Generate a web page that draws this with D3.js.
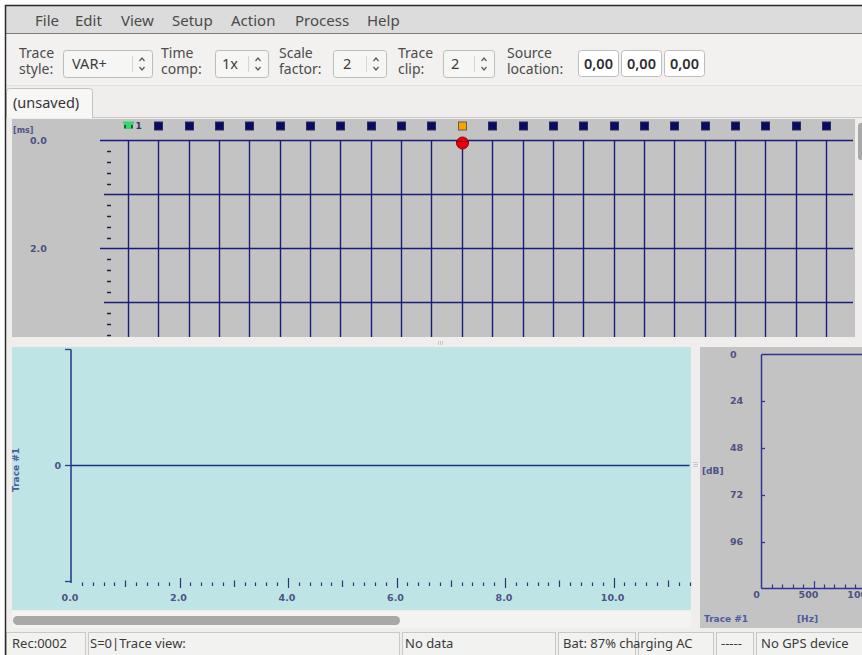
<!DOCTYPE html>
<html>
<head>
<meta charset="utf-8">
<script src="https://cdn.jsdelivr.net/npm/d3@7"></script>
<style>
  html, body { margin: 0; padding: 0; background: #ffffff; }
  svg { display: block; }
  .ui { font-family: "Noto Sans", "Open Sans", sans-serif; }
  .plot { font-family: "DejaVu Sans", sans-serif; font-weight: bold; }
</style>
</head>
<body>
<svg id="app" width="862" height="655"></svg>
<script>
// ---- application content ----
const menuItems = ["File", "Edit", "View", "Setup", "Action", "Process", "Help"];
const menuX = [35, 75, 121, 172, 231, 295, 367];

const spinControls = [
  { label: ["Trace", "style:"], value: "VAR+" },
  { label: ["Time", "comp:"], value: "1x" },
  { label: ["Scale", "factor:"], value: "2" },
  { label: ["Trace", "clip:"], value: "2" }
];
const sourceLabel = ["Source", "location:"];
const sourceLocation = ["0,00", "0,00", "0,00"];
const tabTitle = "(unsaved)";

// Trace gather (top panel)
const traceIds = [1, 2, 3, 4, 5, 6, 7, 8, 9, 10, 11, 12, 13, 14, 15, 16, 17, 18, 19, 20, 21, 22, 23, 24];
const activeTrace = 12;
const firstTraceLabel = "1";
const gatherTimeLines = [0, 1, 2, 3];          // ms
const gatherTimeLabels = [0, 2];               // ms
const gatherTimeUnit = "[ms]";

// Single trace view (bottom-left panel)
const traceTitle = "Trace #1";
const traceTimeLabels = [0, 2, 4, 6, 8, 10];   // ms
const traceAmplitudeTicks = [0];
const traceSamples = [[0, 0], [11.4, 0]];      // flat trace: no data recorded

// Spectrum (bottom-right panel)
const spectrumDbTicks = [0, 24, 48, 72, 96];
const spectrumHzLabels = [0, 500, 1000];
const spectrumUnitY = "[dB]";
const spectrumUnitX = "[Hz]";

// Status bar
const statusCells = ["Rec:0002", "S=0|Trace view:", "No data", "Bat: 87% ch", "arging AC", "-----", "No GPS device"];
const statusEdges = [6, 86, 88, 400, 402, 556, 558, 636, 638, 714, 716, 754, 756, 866];

// ---- drawing ----
const svg = d3.select("#app");
const W = 862, H = 655;
const navy = "#1b1b78";
const labelBlue = "#4d5287";

// window body
svg.append("rect").attr("x", 5).attr("y", 5).attr("width", W - 5).attr("height", H - 5).attr("fill", "#efeeec");

// menubar
svg.append("rect").attr("x", 5).attr("y", 5).attr("width", W - 5).attr("height", 28).attr("fill", "#dcdcdc");
svg.append("line").attr("x1", 5).attr("x2", W).attr("y1", 33.5).attr("y2", 33.5).attr("stroke", "#7a7a7a");
svg.selectAll("text.menu").data(menuItems).join("text")
  .attr("class", "ui menu").attr("x", (d, i) => menuX[i]).attr("y", 26)
  .attr("font-size", 15).attr("fill", "#4a4a4a").text(d => d);

// toolbar
svg.append("rect").attr("x", 6).attr("y", 34).attr("width", W - 6).attr("height", 51).attr("fill", "#f2f1f0");
svg.append("line").attr("x1", 6).attr("x2", W).attr("y1", 85.5).attr("y2", 85.5).attr("stroke", "#e2e1df");

const spinGeom = [
  { lx: 19, bx: 63, bw: 89, tx: 72 },
  { lx: 161, bx: 215, bw: 53, tx: 222 },
  { lx: 279, bx: 333, bw: 53, tx: 343 },
  { lx: 398, bx: 443, bw: 51, tx: 451 }
];
function twoLineLabel(x, lines) {
  [58, 74].forEach((y, k) => {
    svg.append("text").attr("class", "ui").attr("x", x).attr("y", y)
      .attr("font-size", 14).attr("fill", "#4c4c4c").text(lines[k]);
  });
}
spinControls.forEach((c, i) => {
  const g = spinGeom[i];
  twoLineLabel(g.lx, c.label);
  svg.append("rect").attr("x", g.bx + 0.5).attr("y", 50.5).attr("width", g.bw).attr("height", 27).attr("rx", 3)
    .attr("fill", "#f6f6f5").attr("stroke", "#bdbdbb");
  const dx = g.bx + g.bw - 20;
  svg.append("line").attr("x1", dx + 0.5).attr("x2", dx + 0.5).attr("y1", 56).attr("y2", 72).attr("stroke", "#d6d6d4");
  svg.append("text").attr("class", "ui").attr("x", g.tx).attr("y", 69).attr("font-size", 14.5).attr("fill", "#3c3c3c").text(c.value);
  const ax = dx + 10;
  svg.append("path").attr("d", `M${ax - 2.5},${61}L${ax},${58}L${ax + 2.5},${61}`).attr("fill", "none").attr("stroke", "#5a5a5a").attr("stroke-width", 1.2);
  svg.append("path").attr("d", `M${ax - 2.5},${67}L${ax},${70}L${ax + 2.5},${67}`).attr("fill", "none").attr("stroke", "#5a5a5a").attr("stroke-width", 1.2);
});
twoLineLabel(507, sourceLabel);
const srcX = [578, 621, 664];
sourceLocation.forEach((v, i) => {
  svg.append("rect").attr("x", srcX[i] + 0.5).attr("y", 50.5).attr("width", 40).attr("height", 26).attr("rx", 3)
    .attr("fill", "#ffffff").attr("stroke", "#bdbdbb");
  svg.append("text").attr("class", "ui").attr("x", srcX[i] + 20.5).attr("y", 69).attr("text-anchor", "middle")
    .attr("font-size", 14.5).attr("font-weight", 600).attr("fill", "#2e2e2e").text(v);
});

// tab bar
svg.append("line").attr("x1", 92).attr("x2", W).attr("y1", 117.5).attr("y2", 117.5).attr("stroke", "#c9c8c6");
svg.append("path").attr("d", "M6.5,118V91.5Q6.5,88.5 9.5,88.5H89.5Q92.5,88.5 92.5,91.5V118")
  .attr("fill", "#f7f7f6").attr("stroke", "#c3c2c0");
svg.append("text").attr("class", "ui").attr("x", 13).attr("y", 108).attr("font-size", 14.5).attr("fill", "#333").text(tabTitle);

// ---- top panel: trace gather ----
const gTop = { x0: 12, x1: 855, y0: 119, y1: 337 };
svg.append("rect").attr("x", gTop.x0).attr("y", gTop.y0).attr("width", gTop.x1 - gTop.x0).attr("height", gTop.y1 - gTop.y0).attr("fill", "#c3c3c3");
// vertical scrollbar
svg.append("rect").attr("x", 858).attr("y", 123).attr("width", 8).attr("height", 37).attr("rx", 3).attr("fill", "#a9a9a9");

const xTrace = d3.scaleLinear().domain([1, 24]).range([128, 826]);
const yGather = d3.scaleLinear().domain([0, 1]).range([140.5, 194.5]);

const gatherG = svg.append("g");
gatherG.selectAll("line.vt").data(traceIds).join("line")
  .attr("x1", d => Math.round(xTrace(d)) + 0.5).attr("x2", d => Math.round(xTrace(d)) + 0.5)
  .attr("y1", yGather(0)).attr("y2", gTop.y1)
  .attr("stroke", navy).attr("stroke-width", 1.4);
gatherG.selectAll("line.ht").data(gatherTimeLines).join("line")
  .attr("x1", d => (d % 2 === 0 ? 100 : 104)).attr("x2", 853)
  .attr("y1", d => yGather(d)).attr("y2", d => yGather(d))
  .attr("stroke", navy).attr("stroke-width", 1.4);
// minor time ticks every 0.2 ms
const gatherMinor = d3.range(0, 3.8, 0.2).filter(t => Math.abs(t - Math.round(t)) > 0.01);
gatherG.selectAll("line.mt").data(gatherMinor).join("line")
  .attr("x1", 107).attr("x2", 111)
  .attr("y1", d => Math.round(yGather(d)) + 0.5).attr("y2", d => Math.round(yGather(d)) + 0.5)
  .attr("stroke", "#202040").attr("stroke-width", 1.5);
gatherG.selectAll("text.tl").data(gatherTimeLabels).join("text")
  .attr("class", "plot").attr("x", 30).attr("y", d => yGather(d) + 3.5)
  .attr("font-size", 9.5).attr("fill", labelBlue).text(d => d.toFixed(1));
gatherG.append("text").attr("class", "plot").attr("x", 13).attr("y", 133).attr("font-size", 8).attr("font-weight", "normal")
  .attr("fill", labelBlue).text(gatherTimeUnit);

// trace header markers
gatherG.selectAll("rect.hdr").data(traceIds.filter(d => d !== 1)).join("rect")
  .attr("x", d => Math.round(xTrace(d)) - 3.5).attr("y", 122).attr("width", 8).attr("height", 8)
  .attr("fill", d => (d === activeTrace ? "#f7a600" : "#0b0b5c"))
  .attr("stroke", d => (d === activeTrace ? "#6b5a44" : "#2a2a70")).attr("stroke-width", 1);
// first trace: receiver symbol
const r0 = Math.round(xTrace(1)) + 0.5;
gatherG.append("path").attr("d", `M${r0 - 6},121.5L${r0 + 6},121.5L${r0 + 3},129L${r0 - 3},129Z`).attr("fill", "#35d86a");
gatherG.append("rect").attr("x", r0 - 4.5).attr("y", 125).attr("width", 2).attr("height", 3.5).attr("fill", "#1f5a3c");
gatherG.append("rect").attr("x", r0 + 2.5).attr("y", 125).attr("width", 2).attr("height", 3.5).attr("fill", "#1f5a3c");
gatherG.append("text").attr("class", "plot").attr("x", r0 + 7).attr("y", 129).attr("font-size", 9).attr("font-weight", "normal")
  .attr("fill", "#333366").text(firstTraceLabel);
// source position
gatherG.append("circle").attr("cx", Math.round(xTrace(activeTrace)) + 0.5).attr("cy", 143).attr("r", 6)
  .attr("fill", "#e8000a").attr("stroke", "#9a0010").attr("stroke-width", 1);
gatherG.append("line").attr("x1", Math.round(xTrace(activeTrace)) - 6).attr("x2", Math.round(xTrace(activeTrace)) + 7)
  .attr("y1", 141.5).attr("y2", 141.5).attr("stroke", "#8a0010").attr("stroke-width", 1);

// splitter grip
svg.append("g").selectAll("rect").data([0, 2, 4]).join("rect")
  .attr("x", d => 438 + d).attr("y", 341).attr("width", 1).attr("height", 4).attr("fill", "#c8c8c8");

// ---- bottom-left panel: single trace ----
const gT = { x0: 12, x1: 691, y0: 347, y1: 610 };
svg.append("rect").attr("x", gT.x0).attr("y", gT.y0).attr("width", gT.x1 - gT.x0).attr("height", gT.y1 - gT.y0).attr("fill", "#bee4e5");
const xTime = d3.scaleLinear().domain([0, 11.4]).range([71, 689.5]);
const yAmp = d3.scaleLinear().domain([-1, 1]).range([581.5, 349.5]);
const tv = svg.append("g");
tv.append("line").attr("x1", 71).attr("x2", 71).attr("y1", yAmp(1)).attr("y2", 583).attr("stroke", "#2e3e88").attr("stroke-width", 1.6);
[1, -1].forEach(v => tv.append("line").attr("x1", 65).attr("x2", 71).attr("y1", yAmp(v)).attr("y2", yAmp(v)).attr("stroke", "#2e3e88").attr("stroke-width", 1.3));
tv.selectAll("line.at").data(traceAmplitudeTicks).join("line")
  .attr("x1", 65).attr("x2", 71).attr("y1", d => yAmp(d)).attr("y2", d => yAmp(d)).attr("stroke", "#2e3e88").attr("stroke-width", 1.3);
tv.selectAll("text.al").data(traceAmplitudeTicks).join("text")
  .attr("class", "plot").attr("x", 61).attr("y", d => yAmp(d) + 3.5).attr("text-anchor", "end")
  .attr("font-size", 9.5).attr("fill", labelBlue).text(d => d);
tv.append("path").datum(traceSamples)
  .attr("d", d3.line().x(d => xTime(d[0])).y(d => yAmp(d[1])))
  .attr("fill", "none").attr("stroke", "#1c2f85").attr("stroke-width", 1.5);
// time axis ticks
const tvTicks = d3.range(0.2, 11.41, 0.2);
function tickLevel(d) {
  const r = Math.round(d * 5) / 5;
  if (Math.abs(r / 2 - Math.round(r / 2)) < 0.01) return 2;
  if (Math.abs(r - Math.round(r)) < 0.01) return 1;
  return 0;
}
tv.selectAll("line.tt").data(tvTicks).join("line")
  .attr("x1", d => Math.round(xTime(d)) + 0.5).attr("x2", d => Math.round(xTime(d)) + 0.5)
  .attr("y1", d => [582.5, 580.5, 578][tickLevel(d)])
  .attr("y2", d => [586, 587, 588][tickLevel(d)])
  .attr("stroke", "#2b3570").attr("stroke-width", 1.2);
tv.selectAll("text.tl").data(traceTimeLabels).join("text")
  .attr("class", "plot").attr("x", d => xTime(d) - 1).attr("y", 601).attr("text-anchor", "middle")
  .attr("font-size", 9.5).attr("fill", labelBlue).text(d => d.toFixed(1));
tv.append("text").attr("class", "plot").attr("transform", "translate(19,470) rotate(-90)")
  .attr("text-anchor", "middle").attr("font-size", 9).attr("font-weight", "normal").attr("fill", "#4f5aa0").text(traceTitle);

// horizontal scrollbar
svg.append("rect").attr("x", 12).attr("y", 611).attr("width", 679).attr("height", 17).attr("fill", "#f3f3f2");
svg.append("rect").attr("x", 13).attr("y", 616).attr("width", 387).attr("height", 9).attr("rx", 4.5).attr("fill", "#a8a8a8");

// vertical splitter grip
svg.append("g").selectAll("rect").data([0, 2, 4]).join("rect")
  .attr("x", 693).attr("y", d => 462 + d).attr("width", 5).attr("height", 1).attr("fill", "#c8c8c8");

// ---- bottom-right panel: spectrum ----
const gS = { x0: 700, x1: 862, y0: 347, y1: 628 };
svg.append("rect").attr("x", gS.x0).attr("y", gS.y0).attr("width", gS.x1 - gS.x0).attr("height", gS.y1 - gS.y0).attr("fill", "#c3c3c3");
const yDb = d3.scaleLinear().domain([0, 120]).range([354.5, 589]);
const xHz = d3.scaleLinear().domain([0, 1000]).range([761.5, 865.5]);
const sp = svg.append("g");
sp.append("line").attr("x1", 761.5).attr("x2", 761.5).attr("y1", yDb(0)).attr("y2", 588.5).attr("stroke", "#2e3590").attr("stroke-width", 1.5);
sp.append("line").attr("x1", 761.5).attr("x2", 862).attr("y1", yDb(0)).attr("y2", yDb(0)).attr("stroke", "#2e3590").attr("stroke-width", 1.5);
sp.append("line").attr("x1", 761.5).attr("x2", 862).attr("y1", 588.5).attr("y2", 588.5).attr("stroke", "#2e3590").attr("stroke-width", 1.5);
sp.selectAll("line.dt").data(spectrumDbTicks.filter(d => d > 0)).join("line")
  .attr("x1", 761.5).attr("x2", 765).attr("y1", d => Math.round(yDb(d)) + 0.5).attr("y2", d => Math.round(yDb(d)) + 0.5)
  .attr("stroke", "#2e3590").attr("stroke-width", 1.3);
sp.selectAll("text.dl").data(spectrumDbTicks).join("text")
  .attr("class", "plot").attr("x", 730).attr("y", d => yDb(d) + 3)
  .attr("font-size", 9.5).attr("fill", labelBlue).text(d => d);
const hzTicks = d3.range(100, 1001, 100);
sp.selectAll("line.ht").data(hzTicks).join("line")
  .attr("x1", d => Math.round(xHz(d)) + 0.5).attr("x2", d => Math.round(xHz(d)) + 0.5)
  .attr("y1", d => (d % 500 === 0 ? 581 : 584.5)).attr("y2", 588.5)
  .attr("stroke", "#2e3590").attr("stroke-width", 1.2);
sp.selectAll("text.hl").data(spectrumHzLabels).join("text")
  .attr("class", "plot").attr("x", d => xHz(d) - 5).attr("y", 598).attr("text-anchor", "middle")
  .attr("font-size", 9.5).attr("fill", labelBlue).text(d => d);
sp.append("text").attr("class", "plot").attr("x", 702).attr("y", 474).attr("font-size", 9).attr("font-weight", "normal")
  .attr("fill", labelBlue).text(spectrumUnitY);
sp.append("text").attr("class", "plot").attr("x", 704).attr("y", 622).attr("font-size", 9)
  .attr("fill", "#4f5aa0").text(traceTitle);
sp.append("text").attr("class", "plot").attr("x", 797).attr("y", 622).attr("font-size", 9)
  .attr("fill", "#4f5aa0").text(spectrumUnitX);

// ---- status bar ----
const sb = svg.append("g");
statusCells.forEach((txt, i) => {
  const x0 = statusEdges[i * 2], x1 = statusEdges[i * 2 + 1];
  sb.append("rect").attr("x", x0 + 0.5).attr("y", 632.5).attr("width", x1 - x0 - 1).attr("height", 26)
    .attr("fill", "#f2f2f1").attr("stroke", "#c9c9c7");
});
const statusTextX = [12, 90, 405, 563, 633, 721, 761];
sb.selectAll("text").data(statusCells).join("text")
  .attr("class", "ui").attr("x", (d, i) => statusTextX[i]).attr("y", 648)
  .attr("font-size", 13).attr("fill", "#3a3a3a").text(d => d);

// window frame
svg.append("line").attr("x1", 5).attr("x2", W).attr("y1", 5.5).attr("y2", 5.5).attr("stroke", "#2a2a2a").attr("stroke-width", 1.5);
svg.append("line").attr("x1", 5.5).attr("x2", 5.5).attr("y1", 5).attr("y2", H).attr("stroke", "#2a2a2a").attr("stroke-width", 1.5);
</script>
</body>
</html>
